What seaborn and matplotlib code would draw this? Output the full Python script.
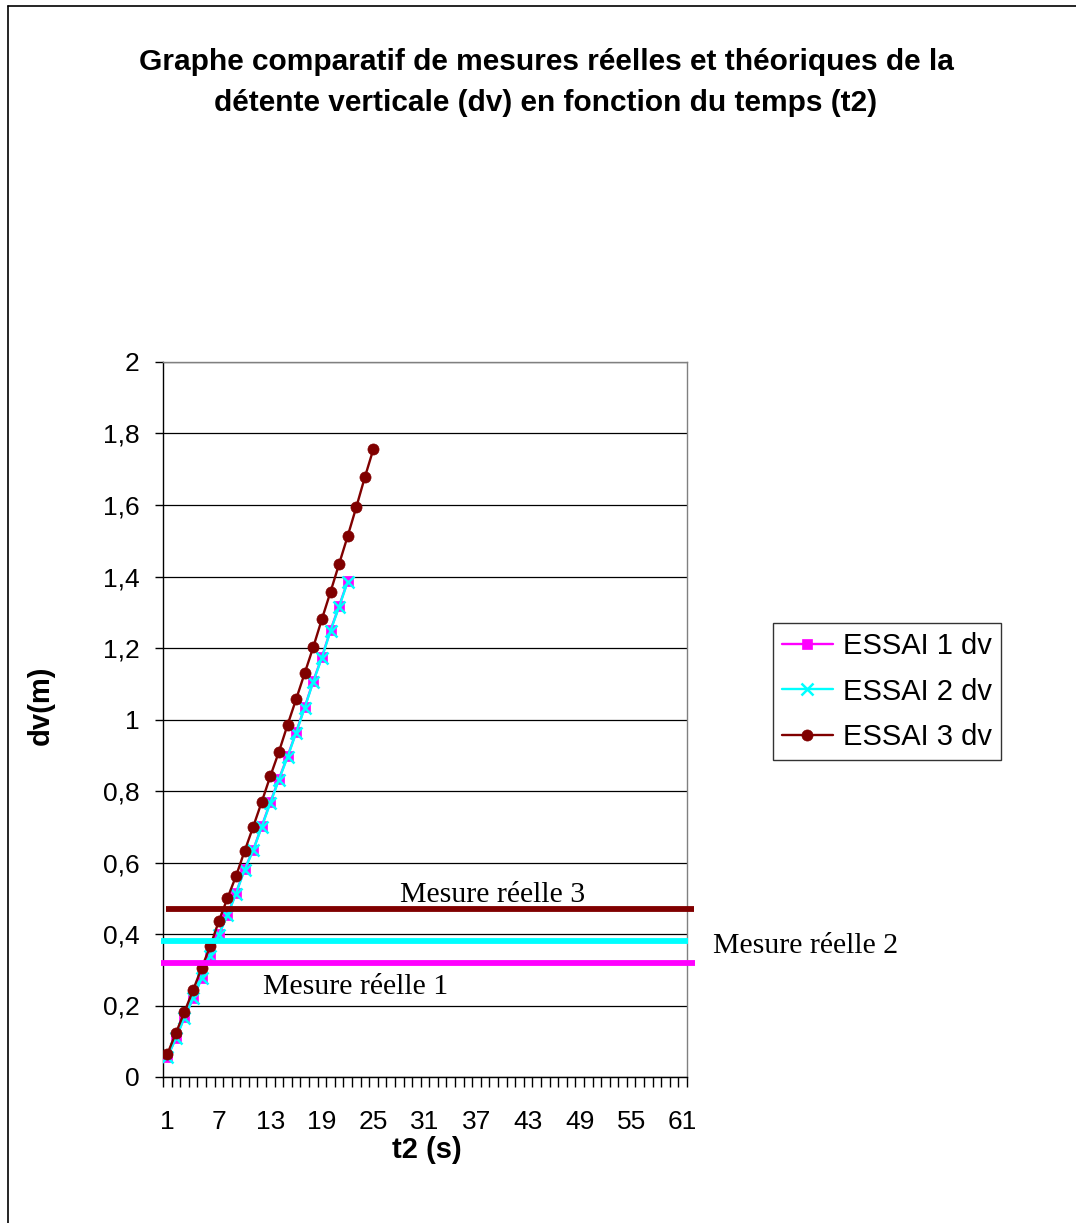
import numpy as np
import pandas as pd
import matplotlib
matplotlib.use("Agg")
import matplotlib.pyplot as plt
import seaborn as sns
from matplotlib.lines import Line2D

# ---------------- data ----------------
title = ("Graphe comparatif de mesures réelles et théoriques de la\n"
         "détente verticale (dv) en fonction du temps (t2)")
x_label = "t2 (s)"
y_label = "dv(m)"
x_categories = list(range(1, 62))
x_tick_values = list(range(1, 62, 6))
y_tick_values = [0, 0.2, 0.4, 0.6, 0.8, 1.0, 1.2, 1.4, 1.6, 1.8, 2.0]
y_tick_labels = ["0", "0,2", "0,4", "0,6", "0,8", "1", "1,2", "1,4", "1,6", "1,8", "2"]

series_names = ["ESSAI 1 dv", "ESSAI 2 dv", "ESSAI 3 dv"]
essai1 = [0.056, 0.109, 0.168, 0.221, 0.277, 0.341, 0.400, 0.453, 0.515, 0.582, 0.635,
          0.702, 0.769, 0.834, 0.897, 0.965, 1.035, 1.108, 1.175, 1.250, 1.317, 1.387]
essai2 = [0.055, 0.108, 0.166, 0.220, 0.276, 0.339, 0.398, 0.452, 0.513, 0.580, 0.634,
          0.700, 0.767, 0.832, 0.895, 0.963, 1.033, 1.106, 1.173, 1.248, 1.315, 1.385]
essai3 = [0.064, 0.123, 0.182, 0.243, 0.305, 0.366, 0.436, 0.500, 0.562, 0.632, 0.700,
          0.770, 0.842, 0.910, 0.985, 1.057, 1.130, 1.203, 1.281, 1.357, 1.435, 1.513,
          1.594, 1.678, 1.757]

mesure_labels = ["Mesure réelle 1", "Mesure réelle 2", "Mesure réelle 3"]
mesure_values = [0.32, 0.38, 0.47]

# ---------------- style ----------------
colors = ["#FF00FF", "#00FFFF", "#800000"]
markers = ["s", "x", "o"]
marker_sizes = [7.5, 9, 8]

sns.set_theme(style="white")
plt.rcParams['font.family'] = ['Liberation Sans', 'DejaVu Sans']
plt.rcParams['axes.linewidth'] = 1.0
for k in ["text.color", "axes.labelcolor", "xtick.color", "ytick.color"]:
    plt.rcParams[k] = "black"

W, H = 1076, 1223
fig = plt.figure(figsize=(W / 100, H / 100), dpi=100)
ax = fig.add_axes([163 / W, (H - 1077) / H, 524 / W, 715 / H])

rows = []
for name, vals in zip(series_names, [essai1, essai2, essai3]):
    for i, v in enumerate(vals):
        rows.append({"t2": x_categories[i], "dv": v, "serie": name})
df = pd.DataFrame(rows)

for name, c, m, ms in zip(series_names, colors, markers, marker_sizes):
    sub = df[df["serie"] == name]
    sns.lineplot(data=sub, x="t2", y="dv", ax=ax, color=c, marker=m,
                 markersize=ms, markeredgecolor=c, markerfacecolor=c,
                 markeredgewidth=1.8 if m == "x" else 0.5,
                 linewidth=1.7, label=name, zorder=3)

# horizontal "mesure réelle" lines (drawn shapes extending slightly past the plot)
line_extents = [(-0.004, 1.015), (-0.004, 1.002), (0.006, 1.013)]
for v, c, (x0, x1) in zip(mesure_values, colors, line_extents):
    ax.plot([x0, x1], [v, v], transform=ax.get_yaxis_transform(), clip_on=False,
            color=c, lw=4.2, solid_capstyle="butt", zorder=4)

label_pos = [(0.191, 0.253), (1.050, 0.367), (0.452, 0.51)]
for lab, (lx, ly) in zip(mesure_labels, label_pos):
    ax.text(lx, ly, lab, transform=ax.get_yaxis_transform(), ha="left", va="center",
            fontsize=21.5, family=["Liberation Serif", "DejaVu Serif"], color="black",
            clip_on=False)

# axes
ax.set_xlim(0.5, 61.5)
ax.set_ylim(0, 2)
ax.set_yticks(y_tick_values)
ax.set_yticklabels(y_tick_labels)
ax.set_xticks(x_tick_values)
ax.set_xticklabels([str(v) for v in x_tick_values])
ax.set_xticks(np.arange(0.5, 62.0, 1.0), minor=True)
ax.tick_params(axis="x", which="major", length=0, pad=24, labelsize=19, colors="black")
ax.tick_params(axis="x", which="minor", length=7, width=1, color="black", direction="out",
               bottom=True)
ax.tick_params(axis="y", which="major", length=6, width=1, color="black", direction="out",
               pad=11, labelsize=19, left=True)
ax.yaxis.grid(True, color="black", lw=0.9)
ax.xaxis.grid(False)
ax.set_axisbelow(True)
for s in ["left", "bottom"]:
    ax.spines[s].set_color("black")
for s in ["top", "right"]:
    ax.spines[s].set_color("#808080")

ax.set_xlabel(x_label, fontsize=21, fontweight="bold")
ax.set_ylabel(y_label, fontsize=21, fontweight="bold")
ax.xaxis.set_label_coords((427 - 163) / 524, (1077 - 1136) / 715)
ax.yaxis.set_label_coords((55 - 163) / 524, (1077 - 705) / 715)

# legend
handles, labels = ax.get_legend_handles_labels()
ax.get_legend().remove()
leg = fig.legend(handles, labels, loc="center",
                 bbox_to_anchor=(887 / W, 1 - 691.5 / H),
                 fontsize=21, frameon=True, fancybox=False, shadow=False,
                 handlelength=1.75, handletextpad=0.35, labelspacing=0.6,
                 borderpad=0.3, borderaxespad=0)
leg.get_frame().set_edgecolor("black")
leg.get_frame().set_linewidth(1.0)

# title
fig.text(546 / W, 1 - 82.5 / H, title, ha="center", va="center", fontsize=21.5,
         fontweight="bold", linespacing=1.6)

# outer chart border (top and left visible)
fig.add_artist(Line2D([8 / W, 1.0], [1 - 6 / H, 1 - 6 / H], transform=fig.transFigure,
                      color="black", lw=1.2))
fig.add_artist(Line2D([8 / W, 8 / W], [0, 1 - 6 / H], transform=fig.transFigure,
                      color="black", lw=1.2))

fig.savefig("out.png", dpi=100, facecolor="white")
